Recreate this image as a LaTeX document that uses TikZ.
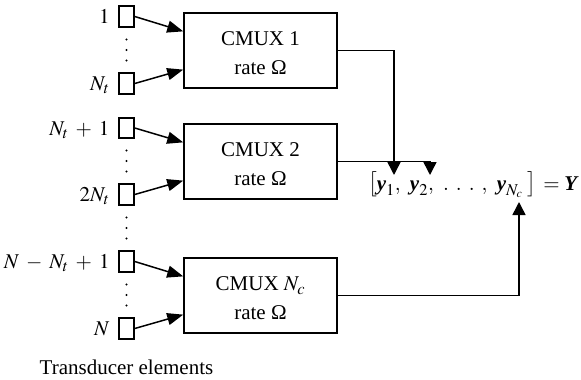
\documentclass[tikz,border=0pt]{standalone}
\usepackage{mathptmx}
\usepackage[no-math]{fontspec}
\setmainfont{Liberation Serif}
\usetikzlibrary{arrows.meta,calc}
\DeclareMathSizes{21}{21}{16.5}{12}
\newcommand\bvec[1]{\mbox{\bfseries\itshape #1}}
\newcommand\picfont{\fontsize{21}{29}\selectfont\medmuskip=6mu\relax}
\begin{document}
\begin{tikzpicture}[x=1pt,y=-1pt,line width=1.5pt,
  font=\picfont,
  elem/.style={draw, minimum width=15pt, minimum height=21pt, inner sep=0pt},
  mux/.style={draw, minimum width=153pt, minimum height=75pt, align=center, inner sep=0pt},
  arrin/.style={-{Triangle[length=16pt,width=12pt]}},
  arrout/.style={-{Triangle[length=13pt,width=13pt]}},
  lbl/.style={anchor=base east, inner sep=0pt}]
\useasboundingbox (0,0) rectangle (581,380);
% transducer elements
\node[elem] (e1) at (126.5,16.5) {};
\node[elem] (e2) at (126.5,83.5) {};
\node[elem, minimum height=20pt] (e3) at (126.5,128) {};
\node[elem] (e4) at (126.5,194.5) {};
\node[elem] (e5) at (126.5,261.5) {};
\node[elem] (e6) at (126.5,328.5) {};
% labels
\node[lbl] (l1) at ($(e1.west)+(-8,7)$) {$1$};
\node[lbl] (l2) at ($(e2.west)+(-8,7)$) {$N_t$};
\node[lbl] (l3) at ($(e3.west)+(-8,7)$) {$N_t+1$};
\node[lbl] (l4) at ($(e4.west)+(-8,7)$) {$2N_t$};
\node[lbl] (l5) at ($(e5.west)+(-8,7)$) {$N-N_t+1$};
\node[lbl] (l6) at ($(e6.west)+(-8,7)$) {$N$};
% dots
\foreach \a/\b in {e1/e2,e3/e4,e4/e5,e5/e6}{
  \coordinate (m) at ($(\a.south)!0.5!(\b.north)$);
  \fill ($(m)+(0,-10.5)$) circle (1.1pt);
  \fill (m) circle (1.1pt);
  \fill ($(m)+(0,10.5)$) circle (1.1pt);
}
% multiplexers
\node[mux] (b1) at (260.5,50.5) {\rule{0pt}{20pt}CMUX 1\\rate Ω};
\node[mux] (b2) at (260.5,161.5) {\rule{0pt}{20pt}CMUX 2\\rate Ω};
\node[mux] (b3) at (260.5,295.5) {\rule{0pt}{20pt}CMUX $N_c$\\rate Ω};
% inputs
\draw[arrin] (e1.east) -- ($(b1.north west)!0.25!(b1.south west)$);
\draw[arrin] (e2.east) -- ($(b1.north west)!0.75!(b1.south west)$);
\draw[arrin] (e3.east) -- ($(b2.north west)!0.25!(b2.south west)$);
\draw[arrin] (e4.east) -- ($(b2.north west)!0.75!(b2.south west)$);
\draw[arrin] (e5.east) -- ($(b3.north west)!0.25!(b3.south west)$);
\draw[arrin] (e6.east) -- ($(b3.north west)!0.75!(b3.south west)$);
% output vector
\node[anchor=base east, inner sep=0pt] (Y) at (578,190)
  {$\left[\bvec{y}_1,\;\,\bvec{y}_2,\;\,\ldotp\;\ldotp\;\ldotp\;,\;\,\bvec{y}_{N_c}\;\right]\,=\bvec{Y}$};
\coordinate (t1) at (394,175);
\coordinate (t2) at (430,175);
\coordinate (t3) at (519,202);
\draw[arrout] (b1.east) -| (t1);
\draw[arrout] (b2.east) -| (t2);
\draw[arrout] (b3.east) -| (t3);
% caption
\node[anchor=base, inner sep=0pt] (cap) at (126.5,374) {Transducer elements};
\end{tikzpicture}
\end{document}
